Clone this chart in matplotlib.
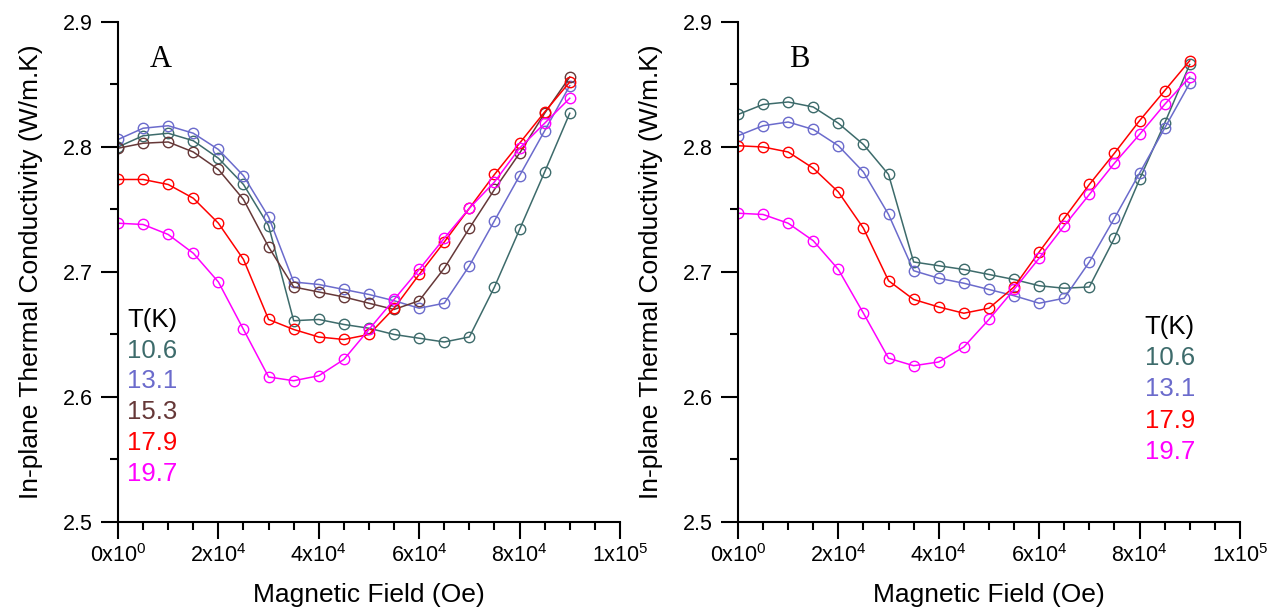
import numpy as np
import matplotlib
matplotlib.use("Agg")
from matplotlib import pyplot as plt
from matplotlib.ticker import MultipleLocator, FuncFormatter

plt.rcParams['font.family'] = ['Liberation Sans', 'DejaVu Sans']
plt.rcParams['mathtext.fontset'] = 'custom'
plt.rcParams['mathtext.rm'] = 'Liberation Sans'
plt.rcParams['mathtext.it'] = 'Liberation Sans'

# magnetic field (Oe)
field = [0, 5000, 10000, 15000, 20000, 25000, 30000, 35000, 40000, 45000,
         50000, 55000, 60000, 65000, 70000, 75000, 80000, 85000, 90000]

# panel A
tempsA = ["10.6", "13.1", "15.3", "17.9", "19.7"]
kA_106 = [2.800, 2.809, 2.811, 2.805, 2.791, 2.770, 2.737, 2.661, 2.662, 2.658,
          2.655, 2.650, 2.647, 2.644, 2.648, 2.688, 2.734, 2.780, 2.827]
kA_131 = [2.806, 2.815, 2.817, 2.811, 2.798, 2.777, 2.744, 2.692, 2.690, 2.686,
          2.682, 2.677, 2.671, 2.675, 2.705, 2.741, 2.777, 2.813, 2.849]
kA_153 = [2.799, 2.803, 2.804, 2.796, 2.782, 2.758, 2.720, 2.688, 2.684, 2.680,
          2.675, 2.670, 2.677, 2.703, 2.735, 2.766, 2.795, 2.827, 2.856]
kA_179 = [2.774, 2.774, 2.770, 2.759, 2.739, 2.710, 2.662, 2.654, 2.648, 2.646,
          2.650, 2.671, 2.698, 2.724, 2.751, 2.778, 2.803, 2.828, 2.852]
kA_197 = [2.739, 2.738, 2.730, 2.715, 2.692, 2.654, 2.616, 2.613, 2.617, 2.630,
          2.654, 2.678, 2.702, 2.727, 2.751, 2.772, 2.799, 2.819, 2.839]

# panel B
tempsB = ["10.6", "13.1", "17.9", "19.7"]
kB_106 = [2.826, 2.834, 2.836, 2.832, 2.819, 2.802, 2.778, 2.708, 2.705, 2.702,
          2.698, 2.694, 2.689, 2.687, 2.688, 2.727, 2.774, 2.819, 2.866]
kB_131 = [2.809, 2.817, 2.820, 2.814, 2.801, 2.780, 2.746, 2.701, 2.695, 2.691,
          2.686, 2.681, 2.675, 2.679, 2.708, 2.743, 2.779, 2.815, 2.851]
kB_179 = [2.801, 2.800, 2.796, 2.783, 2.764, 2.735, 2.693, 2.678, 2.672, 2.667,
          2.671, 2.688, 2.716, 2.743, 2.770, 2.795, 2.821, 2.845, 2.869]
kB_197 = [2.747, 2.746, 2.739, 2.725, 2.702, 2.667, 2.631, 2.625, 2.628, 2.640,
          2.662, 2.686, 2.711, 2.737, 2.762, 2.787, 2.810, 2.834, 2.856]

colours = {"10.6": "#3d6b6b", "13.1": "#6b6bcc", "15.3": "#663838",
           "17.9": "#ff0000", "19.7": "#ff00ff"}


def sci_label(v, pos):
    if v == 0:
        return r"0x10$^{0}$"
    e = int(np.floor(np.log10(abs(v)) + 1e-9))
    m = int(round(v / 10 ** e))
    return r"%dx10$^{%d}$" % (m, e)


def setup_axis(ax, letter, letter_x):
    ax.set_xlim(0, 100000)
    ax.set_ylim(2.5, 2.9)
    for s in ["top", "right"]:
        ax.spines[s].set_visible(False)
    for s in ["left", "bottom"]:
        ax.spines[s].set_linewidth(1.5)
    ax.xaxis.set_major_locator(MultipleLocator(20000))
    ax.xaxis.set_minor_locator(MultipleLocator(5000))
    ax.yaxis.set_major_locator(MultipleLocator(0.1))
    ax.yaxis.set_minor_locator(MultipleLocator(0.05))
    ax.xaxis.set_major_formatter(FuncFormatter(sci_label))
    ax.yaxis.set_major_formatter(FuncFormatter(lambda v, p: "%.1f" % v))
    ax.tick_params(which="major", direction="out", length=12, width=1.5, labelsize=15.5)
    ax.tick_params(which="minor", direction="out", length=6, width=1.5)
    ax.tick_params(axis="x", which="major", pad=4)
    ax.tick_params(axis="y", which="major", pad=6)
    ax.set_xlabel("Magnetic Field (Oe)", fontsize=19)
    ax.set_ylabel("In-plane Thermal Conductivity (W/m.K)", fontsize=19)
    ax.xaxis.set_label_coords(0.5, -0.123)
    ax.yaxis.set_label_coords(-0.15, 0.5)
    ax.text(letter_x, 0.925, letter, transform=ax.transAxes, fontsize=22,
            family="Liberation Serif", ha="center", va="center")


def plot_series(ax, temps, series):
    for t, k in zip(temps, series):
        ax.plot(field, k, color=colours[t], linewidth=1.1, marker="o",
                markersize=7.5, markerfacecolor="none", markeredgewidth=1.0)


def draw_key(ax, temps, x, y0, step):
    ax.text(x, y0, "T(K)", transform=ax.transAxes, fontsize=18.5, color="black",
            ha="left", va="center")
    for i, t in enumerate(temps):
        ax.text(x, y0 - step * (i + 1), t, transform=ax.transAxes, fontsize=18.5,
                color=colours[t], ha="left", va="center")


fig = plt.figure(figsize=(12.73, 6.09), dpi=100)
axA = fig.add_axes([0.0927, 0.1429, 0.3943, 0.821])
axB = fig.add_axes([0.5797, 0.1429, 0.3943, 0.821])

plot_series(axA, tempsA, [kA_106, kA_131, kA_153, kA_179, kA_197])
setup_axis(axA, "A", 0.085)
draw_key(axA, tempsA, 0.018, 0.404, 0.0615)

plot_series(axB, tempsB, [kB_106, kB_131, kB_179, kB_197])
setup_axis(axB, "B", 0.122)
draw_key(axB, tempsB, 0.81, 0.39, 0.0625)

fig.savefig("out.png", dpi=100)
